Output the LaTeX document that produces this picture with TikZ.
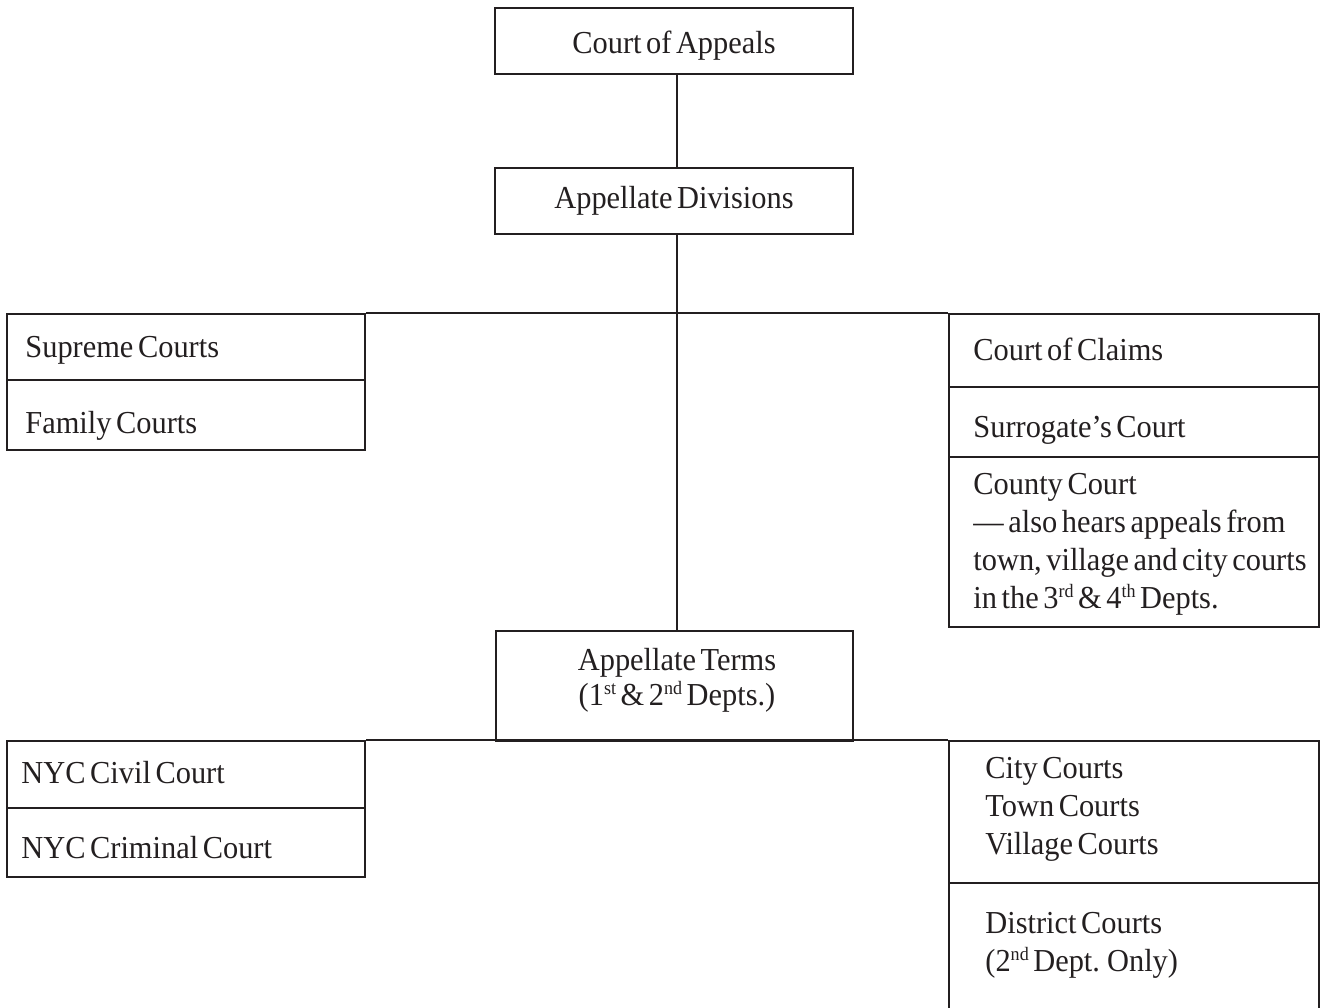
\documentclass[tikz,border=0pt]{standalone}
\usepackage{fontspec}
\setmainfont{Liberation Serif}[FakeStretch=0.95,WordSpace=0.6]
\usetikzlibrary{fit}
\definecolor{ink}{HTML}{231F20}
\newcommand\ordsup[1]{\raisebox{0.33em}{\fontsize{9.5}{9.5}\selectfont #1}}
\begin{document}
\begin{tikzpicture}[x=0.5pt,y=-0.5pt]
     \tikzstyle{courtbox}=[draw=ink, line width=1.2pt, inner sep=0pt]
     \tikzstyle{courttext}=[anchor=base west, inner sep=0pt, text=ink, align=left, font=\fontsize{16}{19}\selectfont]
     \tikzstyle{link}=[draw=ink, line width=1.2pt]
     \useasboundingbox (0,0) rectangle (1321,1007);
     \coordinate (spine) at (677,0);
     \node[courtbox, fit={(495,8) (853,74)}] (appeals) {};
     \node[courtbox, fit={(495,168) (853,234)}] (divisions) {};
     \node[courtbox, fit={(496,631) (853,741)}] (terms) {};
     \node[courtbox, fit={(7,314) (365,380)}] (supreme) {};
     \node[courtbox, fit={(7,380) (365,450)}] (family) {};
     \node[courtbox, fit={(949,314) (1319,387)}] (claims) {};
     \node[courtbox, fit={(949,387) (1319,457)}] (surrogate) {};
     \node[courtbox, fit={(949,457) (1319,627)}] (county) {};
     \node[courtbox, fit={(7,741) (365,808)}] (civil) {};
     \node[courtbox, fit={(7,808) (365,877)}] (criminal) {};
     \node[courtbox, fit={(949,741) (1319,883)}] (local) {};
     \node[courtbox, fit={(949,883) (1319,1020)}] (district) {};
     \node[courttext, anchor=base] (appealstext) at (674,53) {Court of Appeals};
     \node[courttext, anchor=base] (divisionstext) at (674,208) {Appellate Divisions};
     \node[courttext, anchor=base, align=center, font=\fontsize{16}{17.5}\selectfont] (termstext) at (677,705)
          {Appellate Terms\\(1\ordsup{st} \& 2\ordsup{nd} Depts.)};
     \node[courttext] (supremetext) at (25,357) {Supreme Courts};
     \node[courttext] (familytext) at (25,433) {Family Courts};
     \node[courttext] (claimstext) at (973,360) {Court of Claims};
     \node[courttext] (surrogatetext) at (973,437) {Surrogate's Court};
     \node[courttext] (countytext) at (973,608)
          {County Court\\— also hears appeals from\\town, village and city courts\\in the 3\ordsup{rd} \& 4\ordsup{th} Depts.};
     \node[courttext] (civiltext) at (21,783) {NYC Civil Court};
     \node[courttext] (criminaltext) at (21,858) {NYC Criminal Court};
     \node[courttext] (localtext) at (985,854) {City Courts\\Town Courts\\Village Courts};
     \node[courttext] (districttext) at (985,971) {District Courts\\(2\ordsup{nd} Dept. Only)};
     \draw[link] (appeals.south -| spine) -- (divisions.north -| spine);
     \draw[link] (divisions.south -| spine) -- (terms.north -| spine);
     \draw[link] (supreme.north east) -- (claims.north west);
     \draw[link] (civil.north east) -- (local.north west);
\end{tikzpicture}
\end{document}
